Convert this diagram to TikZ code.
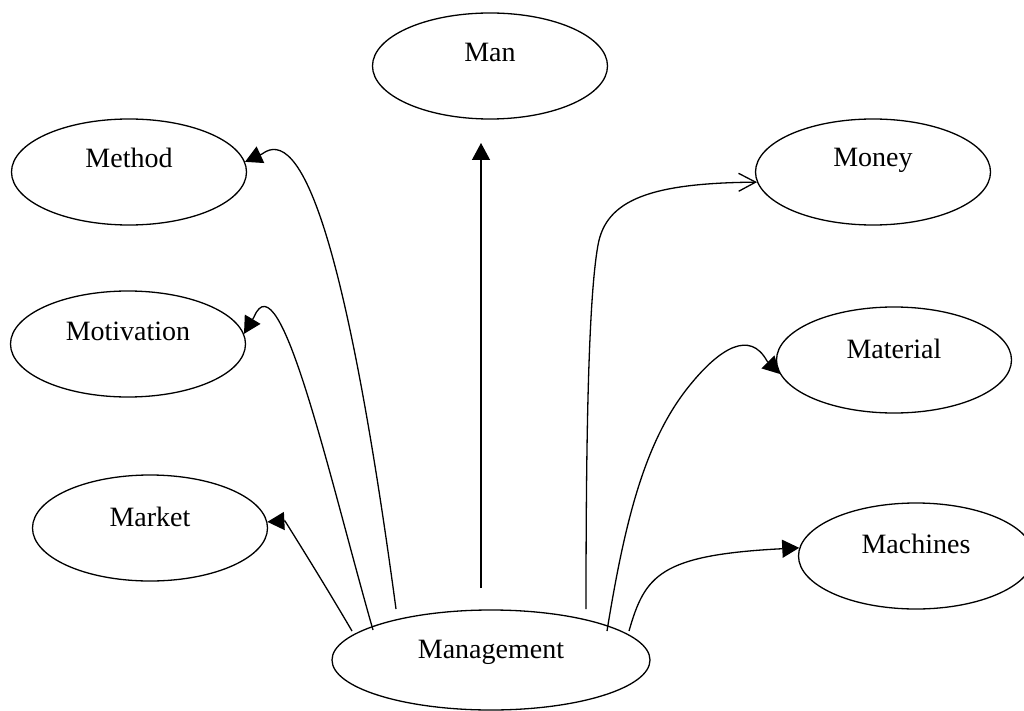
\documentclass[tikz,border=0pt]{standalone}
\usepackage{fontspec}
\setmainfont{Liberation Serif}
\usetikzlibrary{shapes.geometric,arrows.meta}
\begin{document}
\begin{tikzpicture}[x=1pt,y=-1pt,
  oval/.style={draw, line width=1.3pt, ellipse, inner sep=0pt,
               minimum width=235pt, minimum height=106pt},
  lbl/.style={anchor=base, inner sep=0pt, font=\fontsize{28}{32}\selectfont},
  link/.style={line width=1.3pt},
  solidtip/.style={-{Triangle[length=17pt,width=18pt]}},
  opentip/.style={-{Straight Barb[length=17pt,width=18pt,line width=1.3pt]}}]
\useasboundingbox (0,0) rectangle (1024,711);

% the eight ovals
\node[oval] (man)        at (490,66)  {};
\node[oval] (method)     at (129,172) {};
\node[oval] (money)      at (873,172) {};
\node[oval] (motivation) at (128,344) {};
\node[oval] (material)   at (894,360) {};
\node[oval] (market)     at (150,528) {};
\node[oval] (machines)   at (916,556) {};
\node[oval, minimum width=318pt, minimum height=100pt] (mgmt) at (491,660) {};

% their captions, set a little above the centre
\node[lbl] (manT)        at ([yshift=4pt]man.center)        {Man};
\node[lbl] (methodT)     at ([yshift=4pt]method.center)     {Method};
\node[lbl] (moneyT)      at ([yshift=5pt]money.center)      {Money};
\node[lbl] (motivationT) at ([yshift=4pt]motivation.center) {Motivation};
\node[lbl] (materialT)   at ([yshift=2pt]material.center)   {Material};
\node[lbl] (marketT)     at ([yshift=2pt]market.center)     {Market};
\node[lbl] (machinesT)   at ([yshift=3pt]machines.center)   {Machines};
\node[lbl] (mgmtT)       at ([yshift=2pt]mgmt.center)       {Management};

% loose ends of the connectors near Management
\coordinate (sMethod)   at (396,609);
\coordinate (sMotiv)    at (373,630);
\coordinate (sMarket)   at (352,631);
\coordinate (sMan)      at (481,588);
\coordinate (tMan)      at (481,143);
\coordinate (sMoney)    at (586,609);
\coordinate (sMaterial) at (607,631);
\coordinate (sMachines) at (629,631);

% connectors
\draw[link,solidtip] (sMan) -- (tMan);
\draw[link,solidtip] (sMethod) .. controls (345,230) and (300,125) .. (262,154) -- (method.5);
\draw[link,solidtip] (sMotiv) .. controls (330,480) and (280,255) .. (254,317) -- (motivation.5);
\draw[link,solidtip] (sMarket) .. controls (325,585) and (300,545) .. (285,521) -- (market.3);
\draw[link,opentip] (sMoney) .. controls (586,450) and (588,300) .. (598,245)
                     .. controls (606,200) and (650,183) .. (money.185);
\draw[link,solidtip] (sMaterial) .. controls (625,520) and (645,440) .. (690,385)
                     .. controls (720,348) and (750,330) .. (767,361) -- (material.187);
\draw[link,solidtip] (sMachines) .. controls (645,575) and (660,555) .. (machines.176);
\end{tikzpicture}
\end{document}
